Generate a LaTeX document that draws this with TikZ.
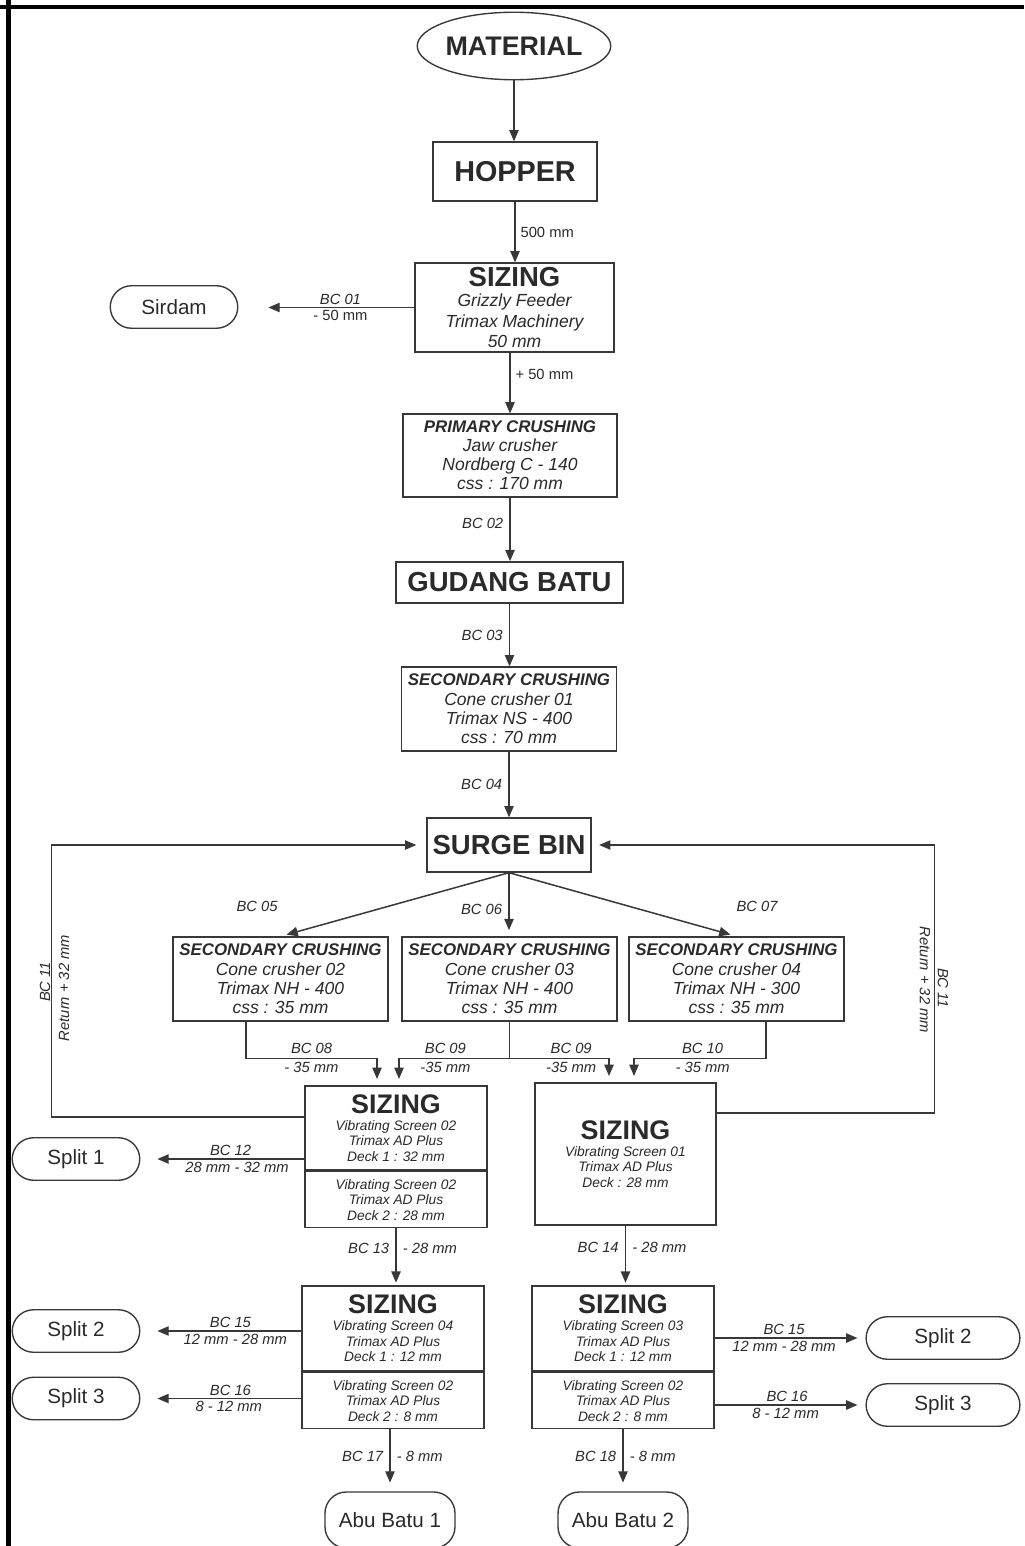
\documentclass[tikz,border=0pt]{standalone}
\usepackage{fontspec}
\setmainfont{Liberation Sans}
\usetikzlibrary{arrows.meta, calc, shapes.geometric}
\definecolor{ink}{HTML}{2A2A2A}
\definecolor{wire}{HTML}{383838}

\begin{document}
\begin{tikzpicture}[x=0.8pt, y=-0.8pt,
    every node/.style={text=ink, inner sep=0pt},
    box/.style={draw=wire, line width=1.3pt, fill=white, align=center},
    head/.style={font=\bfseries\fontsize{22}{24}\selectfont},
    term/.style={draw=wire, line width=1.1pt, rounded corners=17pt,
      minimum height=34pt, font=\fontsize{16.5}{18}\selectfont},
    flow/.style={draw=wire, line width=0.9pt, -{Triangle[length=9pt, width=7.5pt]}},
    lbl/.style={font=\itshape\fontsize{11.8}{13}\selectfont},
    note/.style={font=\fontsize{11.8}{13}\selectfont},
    crush/.style={box, minimum width=172pt, minimum height=67pt,
      font=\itshape\fontsize{14}{15.5}\selectfont},
    screen/.style={box, minimum width=145.6pt,
      font=\itshape\fontsize{11}{12.4}\selectfont}]
  \useasboundingbox (0,0) rectangle (1024,1546);
  % page frame
  \draw[line width=3.5pt, black] (0,7) -- (1024,7);
  \draw[line width=4pt, black] (8.5,0) -- (8.5,1546);

  % main line
  \node[ellipse, draw=wire, line width=1.1pt, minimum width=150pt, minimum height=54pt,
    font=\bfseries\fontsize{21.5}{24}\selectfont] (mat) at (514,46) {MATERIAL};
  \node[box, minimum width=131pt, minimum height=47pt,
    font=\bfseries\fontsize{23}{25}\selectfont] (hopper) at (515,171.5) {HOPPER};
  \node[box, minimum width=159pt, minimum height=71pt, font=\itshape\fontsize{14}{16.4}\selectfont]
    (siz1) at (514.5,307.5) {{\upshape\bfseries\fontsize{22}{24}\selectfont SIZING}\\
    Grizzly Feeder\\ Trimax Machinery\\ 50 mm};
  \node[term, minimum width=102pt] (sirdam) at (174,307) {Sirdam};
  \node[box, minimum width=171pt, minimum height=66pt, font=\itshape\fontsize{14}{15.2}\selectfont]
    (primary) at (510,455.5) {{\bfseries\fontsize{13.5}{15}\selectfont PRIMARY CRUSHING}\\
    Jaw crusher\\ Nordberg C - 140\\ css : 170 mm};
  \node[box, minimum width=181.6pt, minimum height=32.8pt, head] (gudang) at (509.5,582.5) {GUDANG BATU};
  \node[crush] (sec1) at (509,709) {{\bfseries\fontsize{13.5}{15}\selectfont SECONDARY CRUSHING}\\
    Cone crusher 01\\ Trimax NS - 400\\ css : 70 mm};
  \node[box, minimum width=131pt, minimum height=43pt, head] (surge) at (509,845) {SURGE BIN};

  % cone crushers
  \node[crush] (sec2) at (280.5,979) {{\bfseries\fontsize{13.5}{15}\selectfont SECONDARY CRUSHING}\\
    Cone crusher 02\\ Trimax NH - 400\\ css : 35 mm};
  \node[crush] (sec3) at (509.5,979) {{\bfseries\fontsize{13.5}{15}\selectfont SECONDARY CRUSHING}\\
    Cone crusher 03\\ Trimax NH - 400\\ css : 35 mm};
  \node[crush] (sec4) at (736.5,979) {{\bfseries\fontsize{13.5}{15}\selectfont SECONDARY CRUSHING}\\
    Cone crusher 04\\ Trimax NH - 300\\ css : 35 mm};

  % screens
  \node[screen, minimum height=67.2pt] (vs2t) at (396,1128) {{\upshape\bfseries\fontsize{21.5}{22}\selectfont SIZING}\\[1pt]
    Vibrating Screen 02\\ Trimax AD Plus\\ Deck 1 : 32 mm};
  \node[screen, minimum height=44.8pt, anchor=north] (vs2b) at (vs2t.south) {Vibrating Screen 02\\
    Trimax AD Plus\\ Deck 2 : 28 mm};
  \node[screen, minimum width=144.8pt, minimum height=113.6pt] (vs1) at (625.5,1154)
    {{\upshape\bfseries\fontsize{21.5}{22}\selectfont SIZING}\\[1pt]
    Vibrating Screen 01\\ Trimax AD Plus\\ Deck : 28 mm};
  \node[screen, minimum height=68pt] (vs4t) at (393,1328.5) {{\upshape\bfseries\fontsize{21.5}{22}\selectfont SIZING}\\[1pt]
    Vibrating Screen 04\\ Trimax AD Plus\\ Deck 1 : 12 mm};
  \node[screen, minimum height=44.8pt, anchor=north] (vs4b) at (vs4t.south) {Vibrating Screen 02\\
    Trimax AD Plus\\ Deck 2 : 8 mm};
  \node[screen, minimum height=68pt] (vs3t) at (623,1328.5) {{\upshape\bfseries\fontsize{21.5}{22}\selectfont SIZING}\\[1pt]
    Vibrating Screen 03\\ Trimax AD Plus\\ Deck 1 : 12 mm};
  \node[screen, minimum height=44.8pt, anchor=north] (vs3b) at (vs3t.south) {Vibrating Screen 02\\
    Trimax AD Plus\\ Deck 2 : 8 mm};

  % products
  \node[term, minimum width=102pt] (split1) at (76,1159) {Split 1};
  \node[term, minimum width=102pt] (split2a) at (76,1331) {Split 2};
  \node[term, minimum width=102pt] (split3a) at (76,1398.5) {Split 3};
  \node[term, minimum width=123pt] (split2b) at (943,1338) {Split 2};
  \node[term, minimum width=123pt] (split3b) at (943,1405) {Split 3};
  \node[term, minimum width=104pt, minimum height=44.8pt] (abu1) at (390,1520) {Abu Batu 1};
  \node[term, minimum width=104pt, minimum height=44.8pt] (abu2) at (623,1520) {Abu Batu 2};

  % flow down the main line
  \draw[flow] (mat.south) -- (mat.south |- hopper.north);
  \draw[flow] (hopper.south) -- node[right=4pt, note] {500 mm} (hopper.south |- siz1.north);
  \draw[flow, shorten >=24pt] (siz1.west) -- node[pos=0.42, above=2pt, lbl] {BC 01}
    node[pos=0.42, below=2pt, note] {- 50 mm} (siz1.west -| sirdam.east);
  \draw[flow] (siz1.south -| primary.north) -- node[pos=0.35, right=4pt, note] {+ 50 mm} (primary.north);
  \draw[flow] (primary.south) -- node[pos=0.4, left=5pt, lbl] {BC 02} (primary.south |- gudang.north);
  \draw[flow] (gudang.south) -- node[left=5pt, lbl] {BC 03} (gudang.south |- sec1.north);
  \draw[flow] (sec1.south) -- node[left=5pt, lbl] {BC 04} (sec1.south |- surge.north);

  % surge bin to the cone crushers
  \draw[flow, line width=1.2pt, shorten >=5pt] (surge.south) -- (sec2.north);
  \draw[flow, line width=1.2pt, shorten >=5pt] (surge.south) -- node[pos=0.57, left=5pt, lbl] {BC 06} (surge.south |- sec3.north);
  \draw[flow, line width=1.2pt, shorten >=5pt] (surge.south) -- (sec4.north);
  \node[lbl] (bc05) at (257,906) {BC 05};
  \node[lbl] (bc07) at (757,906) {BC 07};

  % cone crushers to the screens
  \draw[flow, shorten >=5pt] ($(sec2.south)+(-34.5,0)$) |- node[pos=0.75, above=3pt, lbl] {BC 08}
    node[pos=0.75, below=3pt, lbl] {- 35 mm} ($(vs2t.north)+(-19,-27)$) -- ($(vs2t.north)+(-19,0)$);
  \draw[flow, shorten >=5pt] (sec3.south) |- node[pos=0.79, above=3pt, lbl] {BC 09}
    node[pos=0.79, below=3pt, lbl] {-35 mm} ($(vs2t.north)+(3,-27)$) -- ($(vs2t.north)+(3,0)$);
  \draw[flow, shorten >=5pt] (sec3.south) |- node[pos=0.81, above=3pt, lbl] {BC 09}
    node[pos=0.81, below=3pt, lbl] {-35 mm} ($(vs1.north)+(-16.5,-24)$) -- ($(vs1.north)+(-16.5,0)$);
  \draw[flow, shorten >=5pt] ($(sec4.south)+(29.5,0)$) |- node[pos=0.74, above=3pt, lbl] {BC 10}
    node[pos=0.74, below=3pt, lbl] {- 35 mm} ($(vs1.north)+(8.5,-24)$) -- ($(vs1.north)+(8.5,0)$);

  % return to the surge bin
  \draw[flow, shorten >=8pt] ($(vs2t.west)+(0,-11)$) -- ++(-253,0) |- (surge.west);
  \draw[flow, shorten >=6pt] ($(vs1.east)+(0,-41)$) -- ++(218,0) |- (surge.east);
  \node[lbl, rotate=90] (bc11a) at (45,982) {BC 11};
  \node[lbl, rotate=90] (reta) at (64,988) {Return + 32 mm};
  \node[lbl, rotate=-90] (retb) at (925,980) {Return + 32 mm};
  \node[lbl, rotate=-90] (bc11b) at (943,988) {BC 11};

  % screen products
  \draw[flow, shorten >=13.6pt] (vs2t.west |- split1.east) -- node[pos=0.45, above=2pt, lbl] {BC 12}
    node[pos=0.41, below=2pt, lbl] {28 mm - 32 mm} (split1.east);
  \draw[flow, shorten >=2pt] (vs2b.south) -- node[pos=0.35, left=5pt, lbl] {BC 13}
    node[pos=0.35, right=5pt, lbl] {- 28 mm} (vs2b.south |- vs4t.north);
  \draw[flow, shorten >=2pt] (vs1.south) -- node[pos=0.36, left=5pt, lbl] {BC 14}
    node[pos=0.36, right=5pt, lbl] {- 28 mm} (vs1.south |- vs3t.north);
  \draw[flow, shorten >=13.6pt] (vs4t.west |- split2a.east) -- node[pos=0.44, above=2pt, lbl] {BC 15}
    node[pos=0.41, below=2pt, lbl] {12 mm - 28 mm} (split2a.east);
  \draw[flow, shorten >=13.6pt] (vs4b.west |- split3a.east) -- node[pos=0.44, above=2pt, lbl] {BC 16}
    node[pos=0.45, below=2pt, lbl] {8 - 12 mm} (split3a.east);
  \draw[flow, shorten >=6.4pt] (vs3t.east |- split2b.west) -- node[pos=0.46, above=2pt, lbl] {BC 15}
    node[pos=0.46, below=2pt, lbl] {12 mm - 28 mm} (split2b.west);
  \draw[flow, shorten >=6.4pt] (vs3b.east |- split3b.west) -- node[pos=0.48, above=2pt, lbl] {BC 16}
    node[pos=0.47, below=2pt, lbl] {8 - 12 mm} (split3b.west);
  \draw[flow, shorten >=7pt] (abu1.north |- vs4b.south) -- node[pos=0.43, left=5pt, lbl] {BC 17}
    node[pos=0.43, right=5pt, lbl] {- 8 mm} (abu1.north);
  \draw[flow, shorten >=7pt] (abu2.north |- vs3b.south) -- node[pos=0.43, left=5pt, lbl] {BC 18}
    node[pos=0.43, right=5pt, lbl] {- 8 mm} (abu2.north);
\end{tikzpicture}
\end{document}
